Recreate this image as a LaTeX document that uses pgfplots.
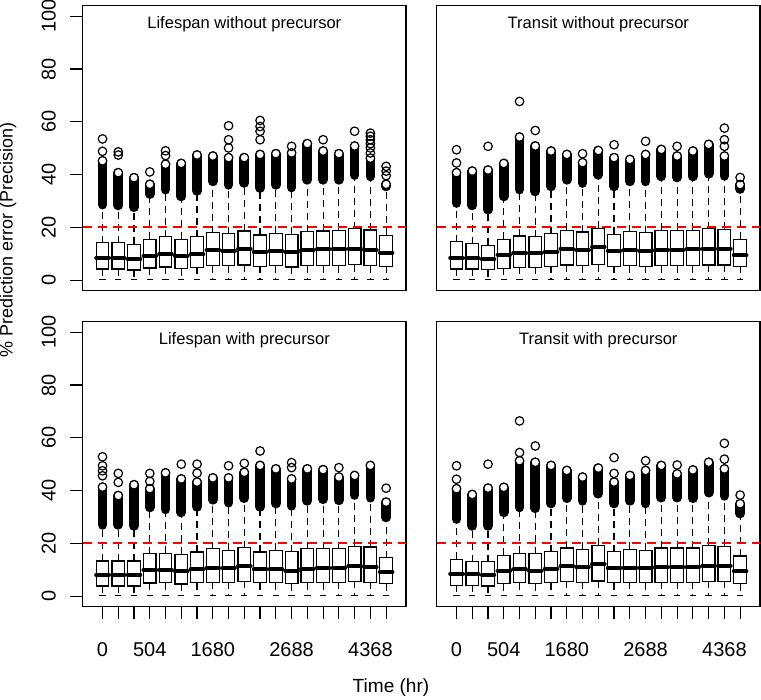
\documentclass[border=0pt]{standalone}
\usepackage{fontspec}
\setmainfont{Liberation Sans}
\usepackage{pgfplots}
\usepackage{pgfplotstable}
\pgfplotsset{compat=1.18}
\usepgfplotslibrary{statistics}

\pgfplotstableread{
pos lw q1 med q3 uw lo hi
0 0.2 4.2 8.4 14.2 27.8 28.6 45.2
1 0.2 4.2 8.4 14.2 27.5 28.3 40.7
2 0.2 3.8 7.9 13.6 26.8 27.6 38.8
3 0.2 4.6 9.2 15.5 31.8 32.6 36.3
4 0.2 5.0 9.8 16.4 33.5 34.3 43.9
5 0.2 4.4 9.2 15.5 30.9 31.7 44.2
6 0.2 4.8 9.8 16.5 33.0 33.8 47.4
7 0.2 5.4 11.4 18.0 36.6 37.4 47.0
8 0.2 5.4 11.1 17.6 35.3 36.1 46.4
9 0.2 5.7 11.9 18.6 36.0 36.8 46.4
10 0.2 5.2 10.7 17.1 34.1 34.9 47.6
11 0.2 5.4 11.1 17.7 35.3 36.1 47.9
12 0.2 5.0 10.7 17.4 34.3 35.1 48.2
13 0.2 5.4 11.3 18.4 37.2 38.0 51.7
14 0.2 5.4 11.7 18.6 37.2 38.0 48.9
15 0.2 5.4 11.7 18.9 37.2 38.0 47.9
16 0.2 5.8 11.9 19.5 39.0 39.8 50.8
17 0.2 5.4 11.3 19.0 38.5 39.3 46.2
18 0.2 5.2 10.4 17.0 34.7 35.5 36.3
}\TLdata

\pgfplotstableread{
pos lw q1 med q3 uw lo hi
0 0.2 4.2 8.4 14.5 28.4 29.2 40.7
1 0.2 4.2 8.2 13.8 27.5 28.3 41.3
2 0.2 3.9 7.9 13.2 25.9 26.7 41.7
3 0.2 4.5 9.7 15.5 30.9 31.7 44.2
4 0.2 4.8 10.2 16.7 33.5 34.3 54.2
5 0.2 4.8 10.2 16.5 32.8 33.6 50.8
6 0.2 5.2 10.7 17.6 34.7 35.5 48.9
7 0.2 5.7 11.9 18.9 37.2 38.0 47.6
8 0.2 5.4 11.3 18.2 36.0 36.8 44.5
9 0.2 5.8 12.6 19.6 39.1 39.9 49.1
10 0.2 5.2 11.1 17.4 34.7 35.5 46.4
11 0.2 5.4 11.3 18.4 36.6 37.4 45.7
12 0.2 5.2 11.1 18.0 36.6 37.4 47.6
13 0.2 5.4 11.4 18.9 38.5 39.3 49.5
14 0.2 5.4 11.4 18.9 38.1 38.9 47.0
15 0.2 5.4 11.7 18.9 38.5 39.3 48.9
16 0.2 5.7 11.9 19.5 39.5 40.3 51.4
17 0.2 5.7 11.9 19.2 38.7 39.5 47.0
18 0.2 5.2 9.4 15.5 33.7 34.5 36.2
}\TRdata

\pgfplotstableread{
pos lw q1 med q3 uw lo hi
0 0.2 3.8 8.1 13.3 26.2 27.0 41.3
1 0.2 3.8 8.1 13.3 26.2 27.0 38.1
2 0.2 3.8 8.1 13.3 25.8 26.6 42.2
3 0.2 5.0 10.0 16.0 32.8 33.6 40.7
4 0.2 5.1 10.0 16.3 32.1 32.9 46.7
5 0.2 4.6 9.4 15.8 30.9 31.7 44.4
6 0.2 5.1 10.1 16.7 33.0 33.8 43.2
7 0.2 5.3 10.6 17.9 35.7 36.5 44.8
8 0.2 5.3 10.6 17.3 34.6 35.4 44.8
9 0.2 5.6 11.4 18.3 36.3 37.1 46.9
10 0.2 5.1 10.1 16.7 33.0 33.8 49.5
11 0.2 5.1 10.1 17.3 34.3 35.1 48.2
12 0.2 4.7 9.7 16.9 33.4 34.2 44.4
13 0.2 5.1 10.4 17.9 35.3 36.1 48.2
14 0.2 5.1 10.6 17.9 35.9 36.7 47.9
15 0.2 5.3 10.8 17.9 35.5 36.3 45.1
16 0.2 5.6 11.4 18.9 37.5 38.3 45.7
17 0.2 5.3 11.0 18.6 36.5 37.3 49.5
18 0.2 4.7 9.1 14.5 29.0 29.8 35.6
}\BLdata

\pgfplotstableread{
pos lw q1 med q3 uw lo hi
0 0.2 4.1 8.5 13.9 28.4 29.2 40.7
1 0.2 4.1 8.2 13.1 25.8 26.6 38.5
2 0.2 3.8 8.1 13.1 25.8 26.6 40.9
3 0.2 4.7 9.7 15.4 30.9 31.7 41.2
4 0.2 5.1 10.1 16.3 32.8 33.6 51.3
5 0.2 4.7 9.7 16.0 32.5 33.3 50.7
6 0.2 5.1 10.4 16.9 34.3 35.1 49.5
7 0.2 5.6 11.4 18.2 36.3 37.1 47.6
8 0.2 5.3 11.0 17.7 35.3 36.1 45.1
9 0.2 5.7 12.0 19.2 38.0 38.8 48.5
10 0.2 5.1 10.6 16.9 34.3 35.1 43.2
11 0.2 5.3 10.8 17.7 35.3 36.1 45.7
12 0.2 5.1 10.6 17.3 34.3 35.1 47.6
13 0.2 5.3 11.0 18.2 36.5 37.3 49.5
14 0.2 5.3 11.0 18.2 36.5 37.3 46.3
15 0.2 5.3 11.0 18.2 36.3 37.1 47.8
16 0.2 5.6 11.6 19.2 38.4 39.2 50.7
17 0.2 5.6 11.6 18.9 37.2 38.0 48.2
18 0.2 4.7 9.4 15.2 30.5 31.3 35.0
}\BRdata

\pgfplotsset{
  panel/.style={
    scale only axis, width=242.5pt, height=213.75pt,
    xmin=-1.26, xmax=19.26, ymin=-4, ymax=104,
    axis line style={black, line width=0.9pt},
    tick style={black, line width=0.9pt},
    tick align=outside, major tick length=9.5pt,
    xtick pos=bottom, ytick pos=left,
    xtick=\empty, ytick=\empty,
    title style={at={(0.5,1)}, anchor=center, yshift=-20.25pt, font=\fontsize{12.4}{14}\selectfont},
    tick label style={font=\fontsize{15}{18}\selectfont},
    /pgf/number format/assume math mode=true,
    boxplot/draw direction=y,
    boxplot/box extend=0.8,
    boxplot/every box/.style={draw=black, line width=0.9pt},
    boxplot/draw/median/.code={},
    boxplot/draw/lower whisker/.code={
      \draw[black, line width=0.9pt, dash pattern=on 5.25pt off 3.75pt]
        (boxplot cs:\pgfplotsboxplotvalue{lower quartile}) -- (boxplot cs:\pgfplotsboxplotvalue{lower whisker});
      \draw[black, line width=0.9pt, solid]
        (boxplot box cs:\pgfplotsboxplotvalue{lower whisker},0.25) -- (boxplot box cs:\pgfplotsboxplotvalue{lower whisker},0.75);
    },
    boxplot/draw/upper whisker/.code={
      \draw[black, line width=0.9pt, dash pattern=on 5.25pt off 3.75pt]
        (boxplot cs:\pgfplotsboxplotvalue{upper quartile}) -- (boxplot cs:\pgfplotsboxplotvalue{upper whisker});
    },
  },
  yleft/.style={
    ytick={0,20,...,100},
    yticklabel style={rotate=90, anchor=south, inner sep=0pt, yshift=10.5pt},
  },
  xbottom/.style={
    xtick={0,...,18},
    xticklabels={0,,,504,,,,1680,,,,,2688,,,,,4368,},
    xticklabel style={anchor=north, inner sep=0pt, yshift=-17pt},
  },
}

\newcommand{\drawpanel}[2]{%
  \pgfplotsinvokeforeach{0,...,18}{
    \pgfplotstablegetelem{##1}{lw}\of#1\edef\vlw{\pgfplotsretval}%
    \pgfplotstablegetelem{##1}{q1}\of#1\edef\vqa{\pgfplotsretval}%
    \pgfplotstablegetelem{##1}{med}\of#1\edef\vmd{\pgfplotsretval}%
    \pgfplotstablegetelem{##1}{q3}\of#1\edef\vqc{\pgfplotsretval}%
    \pgfplotstablegetelem{##1}{uw}\of#1\edef\vuw{\pgfplotsretval}%
    \edef\doplot{\noexpand\addplot[black, boxplot prepared={draw position=##1, lower whisker=\vlw, lower quartile=\vqa, median=\vmd, upper quartile=\vqc, upper whisker=\vuw}] coordinates {};}%
    \doplot
  }
  \addplot[only marks, mark=-, mark size=4.73pt, mark options={solid, black, line width=3pt, line cap=round}] table[x=pos, y=med] {#1};
  \addplot[only marks, mark=none, error bars/.cd, y dir=plus, y explicit, error mark=none, error bar style={black, solid, line width=7.3pt, line cap=round}] table[x=pos, y=lo, y error expr=\thisrow{hi}-\thisrow{lo}] {#1};
  \addplot[only marks, mark=*, mark size=3.2pt, mark options={solid, draw=black, fill=white, line width=0.9pt}] table[x=pos, y=hi] {#1};
  \addplot[only marks, mark=o, mark size=3.2pt, mark options={solid, black, line width=0.9pt}] coordinates {#2};
  \addplot[red, no markers, sharp plot, line width=1.4pt, dash pattern=on 6.75pt off 4.5pt] coordinates {(-1.26,20) (19.26,20)};
}

\begin{document}
\begin{tikzpicture}
\path[use as bounding box] (0pt,0pt) rectangle (570.75pt,-525pt);

\begin{axis}[panel, yleft, at={(62pt,-218pt)}, anchor=south west, title={Lifespan without precursor}]
\drawpanel{\TLdata}{(0,48.8) (0,53.5) (1,47.4) (1,48.6) (3,41.0) (4,47.2) (4,49.0) (8,50.1) (8,53.2) (8,58.5) (10,53.2) (10,56.4) (10,58.2) (10,60.5) (12,50.7) (14,53.2) (16,56.4) (17,48.2) (17,50.1) (17,51.7) (17,53.2) (17,54.5) (17,55.7) (18,39.6) (18,41.3) (18,43.1)}
\end{axis}

\begin{axis}[panel, at={(327.5pt,-218pt)}, anchor=south west, title={Transit without precursor}]
\drawpanel{\TRdata}{(0,44.4) (0,49.4) (2,50.7) (4,67.7) (5,56.7) (8,47.9) (10,51.3) (12,52.6) (14,50.7) (17,50.7) (17,53.2) (17,57.6) (18,38.9)}
\end{axis}

\begin{axis}[panel, yleft, xbottom, at={(62pt,-455pt)}, anchor=south west, title={Lifespan with precursor}]
\drawpanel{\BLdata}{(0,45.6) (0,47.5) (0,49.4) (0,52.8) (1,43.1) (1,46.5) (3,43.5) (3,46.5) (5,50.0) (6,46.6) (6,50.0) (8,49.4) (9,50.3) (10,55.0) (12,48.7) (12,50.6) (15,48.7) (18,40.9)}
\end{axis}

\begin{axis}[panel, xbottom, at={(327.5pt,-455pt)}, anchor=south west, title={Transit with precursor}]
\drawpanel{\BRdata}{(0,44.3) (0,49.4) (2,50.0) (4,54.4) (4,66.4) (5,56.9) (10,46.5) (10,52.5) (12,51.3) (14,49.7) (17,51.9) (17,57.9) (18,38.3)}
\end{axis}

\node[rotate=90, font=\fontsize{13.5}{16}\selectfont] at (6pt,-180pt) {\% Prediction error (Precision)};
\node[font=\fontsize{14.3}{17}\selectfont] at (293.25pt,-516pt) {Time (hr)};
\end{tikzpicture}
\end{document}
